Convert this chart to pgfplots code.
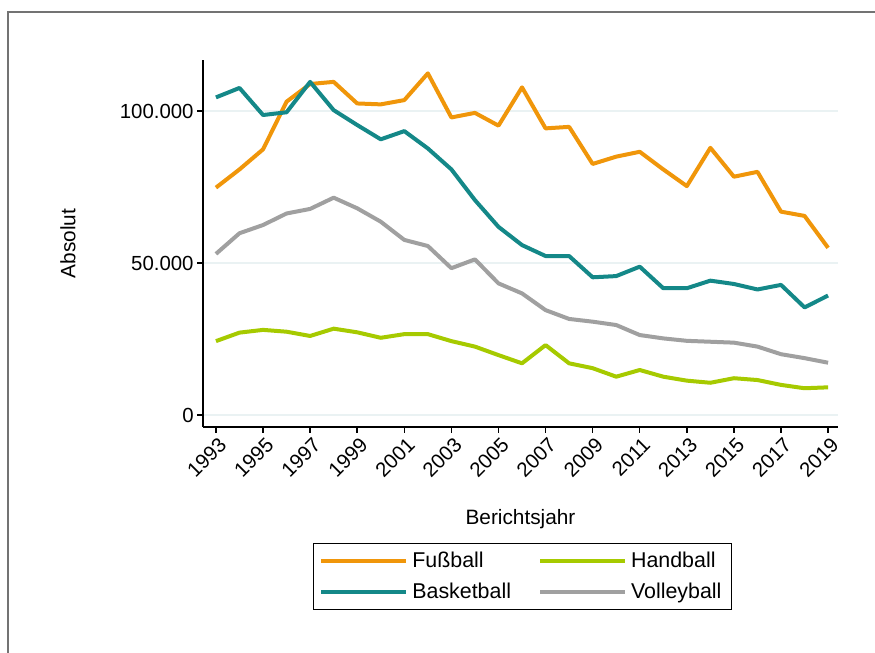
\documentclass[border=0pt]{standalone}
\usepackage{fontspec}
\setmainfont{Liberation Sans}
\usepackage{pgfplots}
\usepackage{pgfplotstable}
\pgfplotsset{compat=1.18}
\definecolor{cfuss}{RGB}{240,150,10}
\definecolor{cbask}{RGB}{20,136,136}
\definecolor{chand}{RGB}{166,202,0}
\definecolor{cvoll}{RGB}{160,160,160}
\definecolor{cgrid}{RGB}{234,242,243}
\pgfplotstableread{
year fuss bask hand voll
1993 74.8 104.5 24.3 53.0
1994 80.8 107.6 27.1 59.8
1995 87.4 98.7 28.0 62.5
1996 103.1 99.6 27.4 66.3
1997 108.9 109.6 26.0 67.8
1998 109.6 100.3 28.4 71.5
1999 102.5 95.4 27.2 68.0
2000 102.2 90.7 25.4 63.6
2001 103.6 93.4 26.6 57.6
2002 112.4 87.7 26.6 55.6
2003 97.9 80.8 24.3 48.3
2004 99.4 70.7 22.5 51.2
2005 95.2 61.9 19.7 43.3
2006 107.8 55.9 17.0 40.0
2007 94.3 52.3 23.0 34.5
2008 94.8 52.3 17.0 31.6
2009 82.6 45.3 15.4 30.7
2010 85.0 45.7 12.6 29.6
2011 86.6 48.8 14.8 26.3
2012 80.8 41.7 12.6 25.2
2013 75.3 41.7 11.3 24.4
2014 87.9 44.2 10.6 24.1
2015 78.4 43.1 12.1 23.8
2016 80.0 41.3 11.5 22.5
2017 66.9 42.8 9.9 20.0
2018 65.5 35.4 8.8 18.7
2019 55.0 39.3 9.1 17.2
}\datatable
\begin{document}
\begin{tikzpicture}
\path[use as bounding box] (0pt,0pt) rectangle (437.5pt,326.5pt);
\draw[line width=0.8pt, color=black!55] (4pt,-10pt) -- (4pt,320.5pt) -- (450pt,320.5pt);
\begin{axis}[
  at={(101.5pt,113pt)}, anchor=south west,
  scale only axis, width=317.5pt, height=183.5pt,
  xmin=1992.45, xmax=2019.42, ymin=-3.95, ymax=116.8,
  axis x line*=bottom, axis y line*=left,
  axis line style={line width=0.75pt, black},
  xtick={1993,1995,...,2019},
  xticklabels={1993,1995,1997,1999,2001,2003,2005,2007,2009,2011,2013,2015,2017,2019},
  ytick={0,50,100},
  yticklabels={0,50.000,100.000},
  tick align=outside, major tick length=3pt,
  tick style={black, line width=0.75pt},
  ymajorgrids, grid style={color=cgrid, line width=0.7pt},
  every tick label/.append style={font=\fontsize{10.2}{12}\selectfont},
  xticklabel style={rotate=45, anchor=east, inner sep=1pt, yshift=-5.5pt, xshift=0.5pt},
  yticklabel style={inner sep=1.5pt},
  label style={font=\fontsize{10.4}{12}\selectfont},
  xlabel={Berichtsjahr}, ylabel={Absolut},
  xlabel style={at={(axis description cs:0.5,-0.251)}, anchor=center},
  ylabel style={at={(axis description cs:-0.2126,0.5)}, anchor=center},
  legend columns=2, transpose legend,
  legend style={at={(axis description cs:0.503,-0.316)}, anchor=north,
    draw=black, line width=0.6pt, font=\fontsize{10.7}{12}\selectfont,
    inner xsep=3pt, inner ysep=2pt, row sep=2.5pt,
    /tikz/every even column/.append style={column sep=11.5pt}},
  legend cell align=left,
  legend image code/.code={\draw[#1, line width=2pt] (0pt,0pt) -- (38pt,0pt); \path (0pt,0pt) -- (42.5pt,0pt);},
  every axis plot/.append style={line width=2pt, line join=round, mark=none},
]
\addplot[cfuss] table[x=year,y=fuss]{\datatable};
\addlegendentry{Fußball}
\addplot[cbask] table[x=year,y=bask]{\datatable};
\addlegendentry{Basketball}
\addplot[chand] table[x=year,y=hand]{\datatable};
\addlegendentry{Handball}
\addplot[cvoll] table[x=year,y=voll]{\datatable};
\addlegendentry{Volleyball}
\end{axis}
\end{tikzpicture}
\end{document}
